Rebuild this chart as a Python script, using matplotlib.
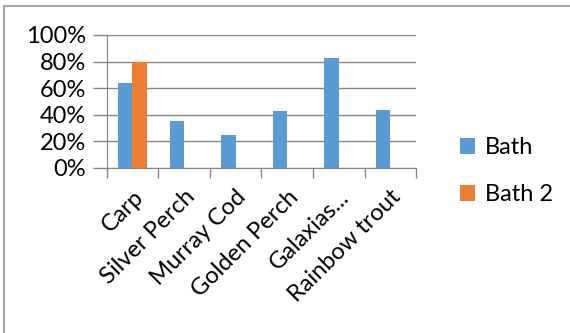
import matplotlib.pyplot as plt
import numpy as np
from matplotlib.patches import Rectangle
from matplotlib.ticker import PercentFormatter

species = ["Carp", "Silver Perch", "Murray Cod", "Golden Perch", "Galaxias...", "Rainbow trout"]
bath = [0.64, 0.35, 0.245, 0.425, 0.825, 0.435]
bath2 = [0.80, np.nan, np.nan, np.nan, np.nan, np.nan]

BLUE = "#5B9BD5"
ORANGE = "#ED7D31"
GRID = "#868686"

plt.rcParams['font.family'] = ['Lato', 'DejaVu Sans']

fig = plt.figure(figsize=(5.7, 3.33), dpi=100)
ax = fig.add_axes([0.187, 0.4955, 0.543, 0.3995])

x = np.arange(len(species))
w = 0.28
ax.bar(x - w / 2, bath, w, color=BLUE, label="Bath")
ax.bar(x + w / 2, bath2, w, color=ORANGE, label="Bath 2")

ax.set_xlim(-0.5, len(species) - 0.5)
ax.set_ylim(0, 1)
ax.set_yticks(np.arange(0, 1.01, 0.2))
ax.yaxis.set_major_formatter(PercentFormatter(1.0, decimals=0))
ax.grid(axis='y', color=GRID, linewidth=1)
ax.set_axisbelow(True)

ax.set_xticks(np.arange(-0.5, len(species), 1.0), minor=False)
ax.set_xticklabels([])
ax.set_xticks(x, minor=True)
ax.set_xticklabels(species, minor=True, rotation=45, ha='right',
                   rotation_mode='anchor', fontsize=17)
ax.tick_params(axis='x', which='major', length=7, color=GRID, width=1)
ax.tick_params(axis='x', which='minor', length=0, pad=13)
ax.tick_params(axis='y', length=10, color=GRID, width=1, labelsize=17, pad=5)

for s in ['top', 'right']:
    ax.spines[s].set_visible(False)
for s in ['left', 'bottom']:
    ax.spines[s].set_color(GRID)

ax.legend(loc='center left', bbox_to_anchor=(0.77, 0.486), bbox_transform=fig.transFigure,
          frameon=False, fontsize=17, handlelength=0.65, handleheight=0.65,
          labelspacing=1.1, handletextpad=0.4)

fig.patches.append(Rectangle((3.5 / 570, -0.1), 1.2, 1 - 5.5 / 333 + 0.1,
                             transform=fig.transFigure, fill=False,
                             edgecolor="#a6a6a6", linewidth=1.5))

fig.savefig("out.png", dpi=100)
